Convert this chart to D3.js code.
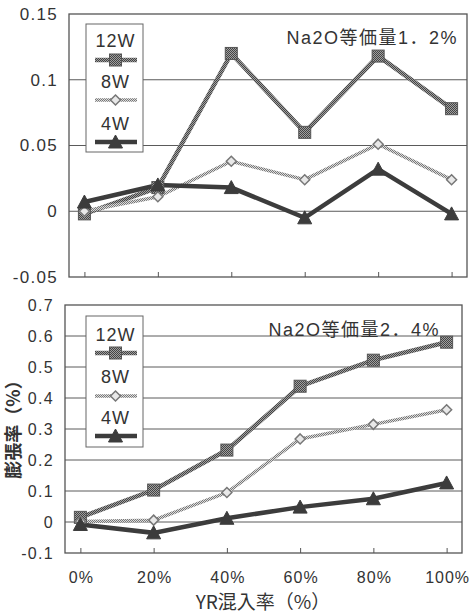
<!DOCTYPE html>
<html><head><meta charset="utf-8">
<script src="https://cdn.jsdelivr.net/npm/d3@7"></script>
<style>body{margin:0;background:#fff}svg{display:block}</style>
</head><body>
<svg id="c" width="473" height="616"></svg>
<script>
const categories = ["0%","20%","40%","60%","80%","100%"];
const seriesNames = ["12W","8W","4W"];
// Na2O 1.2%
const top12W = [-0.002, 0.018, 0.120, 0.060, 0.118, 0.078];
const top8W  = [ 0.000, 0.011, 0.038, 0.024, 0.051, 0.024];
const top4W  = [ 0.007, 0.020, 0.018, -0.005, 0.032, -0.002];
// Na2O 2.4%
const bot12W = [0.015, 0.103, 0.232, 0.438, 0.522, 0.580];
const bot8W  = [0.002, 0.006, 0.095, 0.268, 0.315, 0.362];
const bot4W  = [-0.008, -0.035, 0.012, 0.048, 0.075, 0.126];
const topTicks = [-0.05, 0, 0.05, 0.1, 0.15];
const topTickLabels = ["-0.05","0","0.05","0.1","0.15"];
const botTicks = [-0.1, 0, 0.1, 0.2, 0.3, 0.4, 0.5, 0.6, 0.7];
const botTickLabels = ["-0.1","0","0.1","0.2","0.3","0.4","0.5","0.6","0.7"];
const topTitle = "Na2O等価量1．2%";
const botTitle = "Na2O等価量2．4%";
const xTitle = "YR混入率（%）";
const yTitle = "膨張率（%）";

const svg = d3.select("#c");
const FONT = "'Liberation Sans', Arial, 'Noto Sans CJK JP', sans-serif";
const defs = svg.append("defs");
function checker(id, a, b) {
  const p = defs.append("pattern").attr("id", id).attr("width", 2).attr("height", 2)
    .attr("patternUnits", "userSpaceOnUse");
  p.append("rect").attr("width", 2).attr("height", 2).attr("fill", b);
  p.append("rect").attr("width", 1).attr("height", 1).attr("fill", a);
  p.append("rect").attr("x", 1).attr("y", 1).attr("width", 1).attr("height", 1).attr("fill", a);
}
checker("ck12", "#444", "#a0a0a0");
checker("ck8", "#777", "#dcdcdc");

const styles = {
  "12W": {stroke: "url(#ck12)", width: 4.5, marker: "square", fill: "url(#ck12)", mstroke: "#555"},
  "8W":  {stroke: "url(#ck8)",  width: 3.5, marker: "diamond", fill: "url(#ck8)", mstroke: "#777"},
  "4W":  {stroke: "#3c3c3c",    width: 4.5, marker: "triangle", fill: "#3c3c3c", mstroke: "#3c3c3c"}
};

function drawMarker(g, type, x, y, st, s) {
  if (type === "square") {
    g.append("rect").attr("x", x - s/2).attr("y", y - s/2).attr("width", s).attr("height", s)
      .attr("fill", st.fill).attr("stroke", st.mstroke).attr("stroke-width", 1);
  } else if (type === "diamond") {
    const r = s/2;
    g.append("path").attr("d", `M${x},${y-r}L${x+r},${y}L${x},${y+r}L${x-r},${y}Z`)
      .attr("fill", "#e8e8e8").attr("stroke", st.mstroke).attr("stroke-width", 1.5);
  } else {
    const r = s/2;
    g.append("path").attr("d", `M${x},${y-r-1}L${x+r+1},${y+r}L${x-r-1},${y+r}Z`)
      .attr("fill", st.fill).attr("stroke", st.mstroke).attr("stroke-width", 1);
  }
}

function panel(cfg) {
  const {left, right, top, bottom, domain, ticks, tickLabels, data, title, titleX, titleY, legend, labelX} = cfg;
  const g = svg.append("g");
  const x = d3.scalePoint().domain(categories).range([left, right]).padding(0.21);
  const y = d3.scaleLinear().domain(domain).range([bottom, top]);
  g.append("g").selectAll("line").data(ticks.filter(t => t !== domain[0] && t !== domain[1])).join("line")
    .attr("x1", left).attr("x2", right).attr("y1", d => y(d)).attr("y2", d => y(d))
    .attr("stroke", "#5a5a5a").attr("stroke-width", 1);
  g.append("rect").attr("x", left).attr("y", top).attr("width", right - left).attr("height", bottom - top)
    .attr("fill", "none").attr("stroke", "#555").attr("stroke-width", 1.3);
  const ya = d3.axisLeft(y).tickValues(ticks).tickSize(0).tickPadding(6)
    .tickFormat((d, i) => tickLabels[i]);
  const yg = g.append("g").attr("transform", `translate(${labelX},0)`).call(ya);
  yg.select(".domain").remove();
  yg.selectAll("text").attr("font-family", FONT).attr("font-size", cfg.yfs).attr("fill", "#333")
    .attr("letter-spacing", "1.3px");
  const xa = d3.axisTop(x).tickSize(5).tickFormat("");
  const xg = g.append("g").attr("transform", `translate(0,${bottom})`).call(xa);
  xg.select(".domain").remove();
  xg.selectAll("line").attr("stroke", "#555");
  seriesNames.forEach((name, si) => {
    const st = styles[name];
    const line = d3.line().x((d, i) => x(categories[i])).y(d => y(d));
    g.append("path").datum(data[si]).attr("d", line).attr("fill", "none")
      .attr("stroke", st.stroke).attr("stroke-width", st.width).attr("stroke-linejoin", "miter");
  });
  seriesNames.forEach((name, si) => {
    const st = styles[name];
    data[si].forEach((v, i) => drawMarker(g, st.marker, x(categories[i]), y(v), st, name === "8W" ? 10 : 12));
  });
  g.append("text").attr("x", titleX).attr("y", titleY).attr("text-anchor", "end")
    .attr("font-family", FONT).attr("font-size", 18).attr("letter-spacing", "1.5px")
    .attr("fill", "#333").text(title);
  const lg = g.append("g");
  lg.append("rect").attr("x", legend.x).attr("y", legend.y).attr("width", legend.w).attr("height", legend.h)
    .attr("fill", "#fff").attr("stroke", "#666").attr("stroke-width", 1);
  seriesNames.forEach((name, i) => {
    const st = styles[name];
    const ty = legend.textY[i], ly = legend.lineY[i];
    lg.append("text").attr("x", legend.x + legend.w/2 + 1).attr("y", ty).attr("text-anchor", "middle")
      .attr("font-family", FONT).attr("font-size", 18).attr("letter-spacing", "1px")
      .attr("fill", "#333").text(name);
    lg.append("line").attr("x1", legend.x + 9).attr("x2", legend.x + legend.w - 6).attr("y1", ly).attr("y2", ly)
      .attr("stroke", st.stroke).attr("stroke-width", st.width);
    drawMarker(lg, st.marker, legend.x + legend.w/2 + 1, ly, st, name === "8W" ? 10 : 12);
  });
  return {x, y};
}

panel({left: 69, right: 467, top: 14, bottom: 277, domain: [-0.05, 0.15], ticks: topTicks,
  tickLabels: topTickLabels, data: [top12W, top8W, top4W], title: topTitle, titleX: 458, titleY: 44,
  labelX: 64, yfs: 17,
  legend: {x: 86, y: 24, w: 57, h: 128, textY: [47, 88, 130], lineY: [60, 100, 142]}});

const b = panel({left: 65, right: 462, top: 305, bottom: 553, domain: [-0.1, 0.7], ticks: botTicks,
  tickLabels: botTickLabels, data: [bot12W, bot8W, bot4W], title: botTitle, titleX: 440, titleY: 336,
  labelX: 60, yfs: 16,
  legend: {x: 86, y: 316, w: 57, h: 131, textY: [341, 383, 424], lineY: [353, 396, 436]}});

svg.append("g").selectAll("text").data(categories).join("text")
  .attr("x", d => b.x(d) + 1).attr("y", 583).attr("text-anchor", "middle")
  .attr("font-family", FONT).attr("font-size", 16).attr("fill", "#333").attr("letter-spacing", "1px")
  .text(d => d);
svg.append("text").attr("x", 263).attr("y", 609).attr("text-anchor", "middle")
  .attr("font-family", "'Noto Sans CJK JP', sans-serif").attr("font-size", 19).attr("fill", "#333").text(xTitle);
svg.append("text").attr("transform", "translate(12,425) rotate(-90)").attr("text-anchor", "middle")
  .attr("dominant-baseline", "central")
  .attr("font-family", "'Noto Sans CJK JP', sans-serif").attr("font-size", 18).attr("font-weight", "bold")
  .attr("fill", "#333").text(yTitle);
</script>
</body></html>
